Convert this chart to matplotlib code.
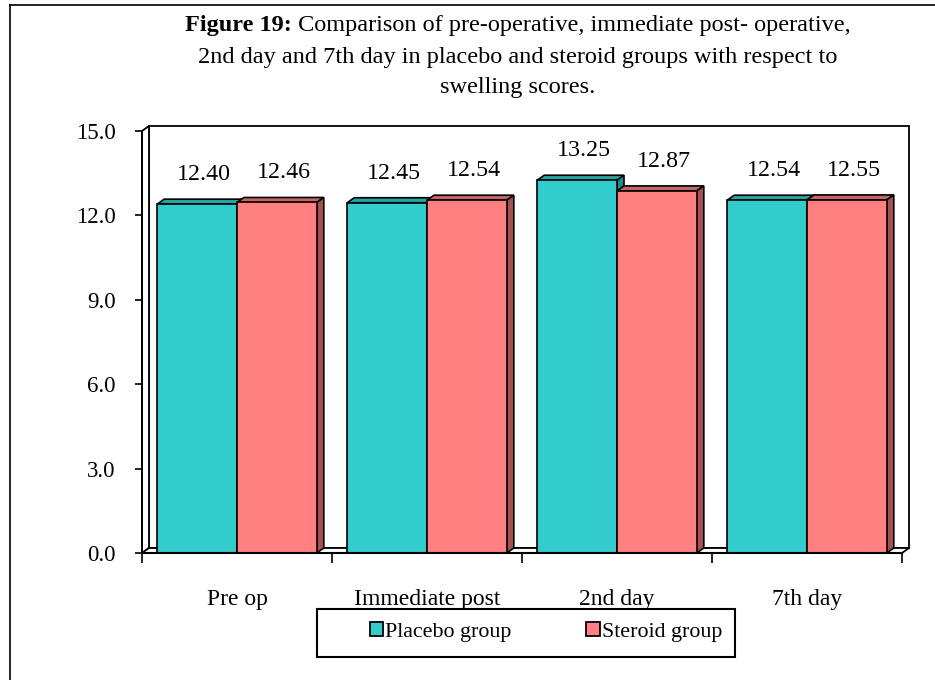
import numpy as np
import matplotlib
matplotlib.use("Agg")
from matplotlib import pyplot as plt
from matplotlib.patches import Polygon, Patch, Rectangle
from matplotlib.lines import Line2D

categories = ["Pre op", "Immediate post", "2nd day", "7th day"]
placebo = [12.40, 12.45, 13.25, 12.54]
steroid = [12.46, 12.54, 12.87, 12.55]
series_names = ["Placebo group", "Steroid group"]
y_ticks = [0.0, 3.0, 6.0, 9.0, 12.0, 15.0]

FONT = "Liberation Serif"
FRONT = ["#33CCCC", "#FF8080"]
TOP = ["#26A3A3", "#C86464"]
SIDE = ["#1E8C8C", "#A85050"]

W, H = 935, 680
fig = plt.figure(figsize=(W / 100, H / 100), dpi=100)
plt.rcParams['font.family'] = [FONT, 'DejaVu Sans']

left, right, bottom, top = 142, 902, 553, 131
ax = fig.add_axes([left / W, 1 - bottom / H, (right - left) / W, (bottom - top) / H])
ax.set_xlim(-0.5, 3.5)
ax.set_ylim(0, 15)
ax.patch.set_visible(False)

# depth of the fake 3d effect, in data units
dx = 7 / ((right - left) / 4)
dy = 5 / ((bottom - top) / 15)

# walls and floor
wall_kw = dict(facecolor="white", edgecolor="black", linewidth=1.3, clip_on=False)
ax.add_patch(Polygon([(-0.5 + dx, dy), (3.5 + dx, dy), (3.5 + dx, 15 + dy), (-0.5 + dx, 15 + dy)], **wall_kw))
ax.add_patch(Polygon([(-0.5, 0), (-0.5 + dx, dy), (-0.5 + dx, 15 + dy), (-0.5, 15)], **wall_kw))
ax.add_patch(Polygon([(-0.5, 0), (3.5, 0), (3.5 + dx, dy), (-0.5 + dx, dy)], **wall_kw))

bw = 0.42
x = np.arange(len(categories))
for i in range(len(categories)):
    for k, vals in enumerate([placebo, steroid]):
        x0 = x[i] - bw + k * bw
        x1 = x0 + bw
        h = vals[i]
        ax.add_patch(Polygon([(x0, h), (x1, h), (x1 + dx, h + dy), (x0 + dx, h + dy)],
                             facecolor=TOP[k], edgecolor="black", linewidth=1.2, clip_on=False, zorder=3))
        ax.add_patch(Polygon([(x1, 0), (x1 + dx, dy), (x1 + dx, h + dy), (x1, h)],
                             facecolor=SIDE[k], edgecolor="black", linewidth=1.2, clip_on=False, zorder=3))
        ax.bar(x0, h, width=bw, align="edge", color=FRONT[k], edgecolor="black",
               linewidth=1.2, zorder=3)
        ax.text((x0 + x1) / 2 + dx, h + 1.05, "{:.2f}".format(h), ha="center", va="center",
                fontsize=17.3, family=FONT, zorder=4)

for s in ["top", "right", "bottom"]:
    ax.spines[s].set_visible(False)
ax.spines["left"].set_linewidth(1.3)
ax.add_line(Line2D([-0.5, 3.5], [0, 0], color="black", linewidth=1.5, clip_on=False, zorder=5))

ax.set_yticks(y_ticks)
ax.set_yticklabels(["{:.1f}".format(v) for v in y_ticks], fontsize=16.5, family=FONT)
ax.tick_params(axis="y", length=5, width=1.2, pad=14)

ax.set_xticks(x)
ax.set_xticklabels(categories, fontsize=17, family=FONT)
ax.tick_params(axis="x", which="major", length=0, pad=26)
ax.set_xticks(np.arange(-0.5, 4.0, 1.0), minor=True)
ax.tick_params(axis="x", which="minor", length=7, width=1.2, direction="out")

# legend: frame drawn separately, entries placed inside it
fig.add_artist(Rectangle((317 / W, 1 - 657 / H), 418 / W, 48 / H, transform=fig.transFigure,
                         facecolor="white", edgecolor="black", linewidth=1.5))
handles = [Patch(facecolor=FRONT[k], edgecolor="black", linewidth=1.3) for k in range(2)]
leg = fig.legend(handles, series_names, loc="center left", bbox_to_anchor=(370 / W, 1 - 632 / H),
                 ncol=2, frameon=False, prop={"family": FONT, "size": 15.8},
                 handlelength=0.6, handleheight=0.6, handletextpad=0.1, columnspacing=3.4,
                 borderpad=0, borderaxespad=0)

# title, first words in bold
renderer = fig.canvas.get_renderer()
cx = 518 / W
tsize = 17.5
t_bold = fig.text(0, 1 - 25 / H, "Figure 19:", fontsize=tsize, fontweight="bold", family=FONT, va="center")
t_rest = fig.text(0, 1 - 25 / H, " Comparison of pre-operative, immediate post- operative,",
                  fontsize=tsize, family=FONT, va="center")
wb = t_bold.get_window_extent(renderer).width / W
wr = t_rest.get_window_extent(renderer).width / W
t_bold.set_x(cx - (wb + wr) / 2)
t_rest.set_x(cx - (wb + wr) / 2 + wb)
fig.text(cx, 1 - 57 / H, "2nd day and 7th day in placebo and steroid groups with respect to",
         fontsize=tsize, family=FONT, ha="center", va="center")
fig.text(cx, 1 - 88 / H, "swelling scores.", fontsize=tsize, family=FONT, ha="center", va="center")

# frame of the figure
fig.add_artist(Line2D([10 / W, 10 / W], [0, 1 - 5 / H], color="black", linewidth=1.2))
fig.add_artist(Line2D([10 / W, 1], [1 - 5 / H, 1 - 5 / H], color="black", linewidth=1.2))

fig.savefig("out.png", dpi=100)
